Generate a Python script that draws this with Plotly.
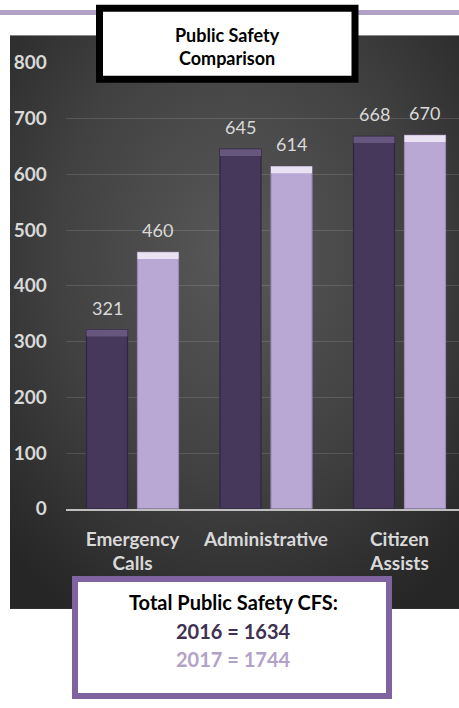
import base64
import plotly.graph_objects as go

categories = ["Emergency<br>Calls", "Administrative", "Citizen<br>Assists"]
years = ["2016", "2017"]
values_2016 = [321, 645, 668]
values_2017 = [460, 614, 670]
y_ticks = [0, 100, 200, 300, 400, 500, 600, 700, 800]

W, H = 459, 708
DARK = "#46385b"
LIGHT = "#b9a8d3"
FONT = "Lato"

def px_x(p):
    return p / W

def px_y(p):
    return 1 - p / H

# plot area in pixels
plot_l, plot_r = 65.75, 459
plot_t, plot_b = 52.5, 513.5
cat_px = 133.5
bargap = 0.236
bargroupgap = 0.196

svg = (
    '<svg xmlns="http://www.w3.org/2000/svg" width="449" height="593">'
    '<defs><radialGradient id="g" cx="0.5" cy="0.38" r="0.72">'
    '<stop offset="0" stop-color="#585858"/>'
    '<stop offset="0.55" stop-color="#414141"/>'
    '<stop offset="1" stop-color="#262626"/>'
    '</radialGradient></defs>'
    '<rect width="449" height="593" fill="url(#g)"/></svg>'
)
bg_src = "data:image/svg+xml;base64," + base64.b64encode(svg.encode()).decode()

fig = go.Figure()

bevel = 12  # data units, the lighter top facet of each bar
for name, vals, col, line_col, top_col in [
    (years[0], values_2016, DARK, "#2e2540", "#67577f"),
    (years[1], values_2017, LIGHT, "#9a88b6", "#e9e2f3"),
]:
    fig.add_trace(go.Bar(
        name=name, x=categories, y=vals, offsetgroup=name,
        marker=dict(color=col, line=dict(color=line_col, width=1.2)),
        hoverinfo="skip",
    ))
    fig.add_trace(go.Bar(
        name=name + " bevel", x=categories, y=[bevel] * len(vals),
        base=[v - bevel for v in vals], offsetgroup=name,
        marker=dict(color=top_col, line=dict(width=0)),
        hoverinfo="skip", showlegend=False,
    ))

# data labels
slot_px = cat_px * (1 - bargap) / 2
for vals, shift in [(values_2016, -slot_px / 2), (values_2017, slot_px / 2)]:
    for c, v in zip(categories, vals):
        fig.add_annotation(
            x=c, y=v, xref="x", yref="y", text=str(v), showarrow=False,
            xshift=shift, yshift=22, xanchor="center", yanchor="middle",
            font=dict(family=FONT, size=18, color="#d9d9d9"),
        )

shapes = [
    # top lavender band
    dict(type="rect", xref="paper", yref="paper", x0=0, x1=1,
         y0=px_y(3), y1=px_y(-2), fillcolor="#b3a2c7", line=dict(width=0), layer="above"),
    # title box
    dict(type="rect", xref="paper", yref="paper", x0=px_x(99.5), x1=px_x(355),
         y0=px_y(69.5), y1=px_y(-4), fillcolor="white",
         line=dict(color="black", width=7), layer="above"),
    # bottom box
    dict(type="rect", xref="paper", yref="paper", x0=px_x(75), x1=px_x(389),
         y0=px_y(707), y1=px_y(586), fillcolor="white",
         line=dict(color="#8064a2", width=6), layer="above"),
]

fig.add_annotation(
    x=px_x(227), y=px_y(36), xref="paper", yref="paper", showarrow=False,
    xanchor="center", yanchor="middle",
    text="<b>Public Safety<br>Comparison</b>",
    font=dict(family=FONT, size=18, color="black"),
)
total_2016 = sum(values_2016)
total_2017 = sum(values_2017)
for text, color, ypx in [
    ("<b>Total Public Safety CFS:</b>", "black", 610),
    (f"<b>{years[0]} = {total_2016}</b>", "#3f3151", 640),
    (f"<b>{years[1]} = {total_2017}</b>", "#b3a2c7", 669),
]:
    fig.add_annotation(
        x=px_x(233), y=px_y(ypx), xref="paper", yref="paper", showarrow=False,
        xanchor="center", yanchor="middle",
        text=text, font=dict(family=FONT, size=20, color=color),
    )

fig.update_layout(
    width=W, height=H,
    margin=dict(l=0, r=0, t=0, b=0),
    paper_bgcolor="white", plot_bgcolor="rgba(0,0,0,0)",
    barmode="group", bargap=bargap, bargroupgap=bargroupgap,
    showlegend=False,
    shapes=shapes,
    images=[dict(source=bg_src, xref="paper", yref="paper",
                 x=px_x(10), y=px_y(24), sizex=449 / W, sizey=593 / H,
                 xanchor="left", yanchor="top", sizing="stretch", layer="below")],
    xaxis=dict(
        domain=[px_x(plot_l), px_x(plot_r)],
        range=[-0.5, -0.5 + (plot_r - plot_l) / cat_px],
        showgrid=False, showline=True, linecolor="#bfbfbf", linewidth=2,
        ticks="", ticklabelstandoff=12,
        tickfont=dict(family=FONT, size=19, color="#d9d9d9", weight="bold"),
        fixedrange=True,
    ),
    yaxis=dict(
        domain=[px_y(plot_b), px_y(plot_t)],
        range=[0, 800], tickvals=y_ticks,
        showgrid=True, gridcolor="rgba(255,255,255,0.13)", gridwidth=1,
        zeroline=False, showline=False, ticks="", ticklabelstandoff=18,
        tickfont=dict(family=FONT, size=19, color="#d9d9d9", weight="bold"),
        fixedrange=True,
    ),
)

fig.write_html(
    "out.html",
    config={"displayModeBar": False},
    post_script="document.documentElement.style.margin='0';document.body.style.margin='0';",
)
